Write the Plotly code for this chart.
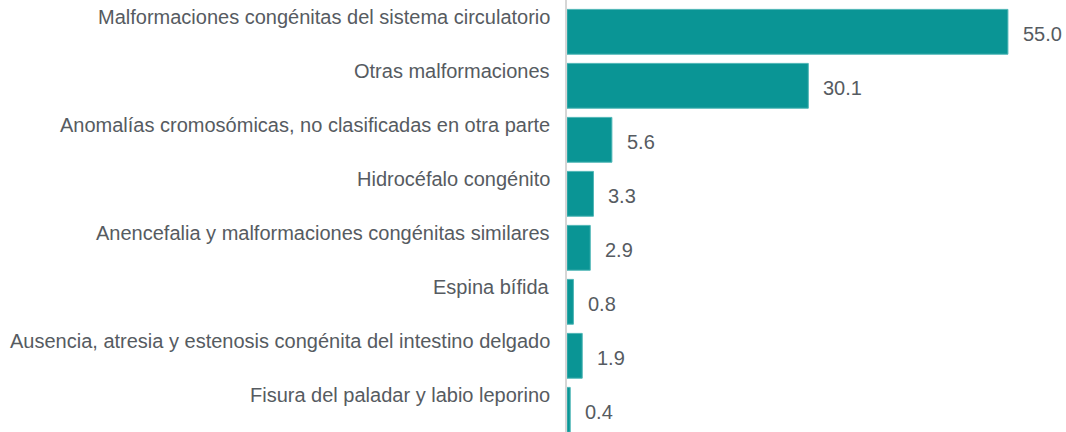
import plotly.graph_objects as go

categories = [
    "Malformaciones congénitas del sistema circulatorio",
    "Otras malformaciones",
    "Anomalías cromosómicas, no clasificadas en otra parte",
    "Hidrocéfalo congénito",
    "Anencefalia y malformaciones congénitas similares",
    "Espina bífida",
    "Ausencia, atresia y estenosis congénita del intestino delgado",
    "Fisura del paladar y labio leporino",
]
values = [55.0, 30.1, 5.6, 3.3, 2.9, 0.8, 1.9, 0.4]

BAR = "#0a9595"
TXT = "#565b61"
FONT = "Liberation Sans, Arial, sans-serif"

fig = go.Figure(
    go.Bar(
        x=values,
        y=list(range(len(categories))),
        orientation="h",
        marker=dict(color=BAR, line=dict(color="#4fb6b6", width=1)),
        hoverinfo="skip",
    )
)

annotations = []
for i, (c, v) in enumerate(zip(categories, values)):
    annotations.append(dict(
        x=0, y=i, xref="x", yref="y", text=c, showarrow=False,
        xanchor="right", yanchor="middle", xshift=-15, yshift=15,
        font=dict(family=FONT, size=20, color=TXT),
    ))
    annotations.append(dict(
        x=v, y=i, xref="x", yref="y", text=f"{v:.1f}", showarrow=False,
        xanchor="left", yanchor="middle", xshift=13, yshift=-2,
        font=dict(family=FONT, size=20, color=TXT),
    ))

fig.update_layout(
    width=1066, height=432,
    margin=dict(l=567, r=18, t=0, b=0),
    paper_bgcolor="white", plot_bgcolor="white",
    bargap=0.17,
    showlegend=False,
    hovermode=False,
    annotations=annotations,
    xaxis=dict(range=[0, 60], visible=False, showgrid=False, zeroline=False),
    yaxis=dict(range=[7.411, -0.589], showticklabels=False, ticks="",
               showgrid=False, zeroline=False, showline=True,
               linecolor="#d6d6d6", linewidth=2),
)

fig.write_html(
    "out.html",
    config={"displayModeBar": False, "staticPlot": True},
    post_script="document.body.style.margin='0';document.body.style.overflow='hidden';",
)
